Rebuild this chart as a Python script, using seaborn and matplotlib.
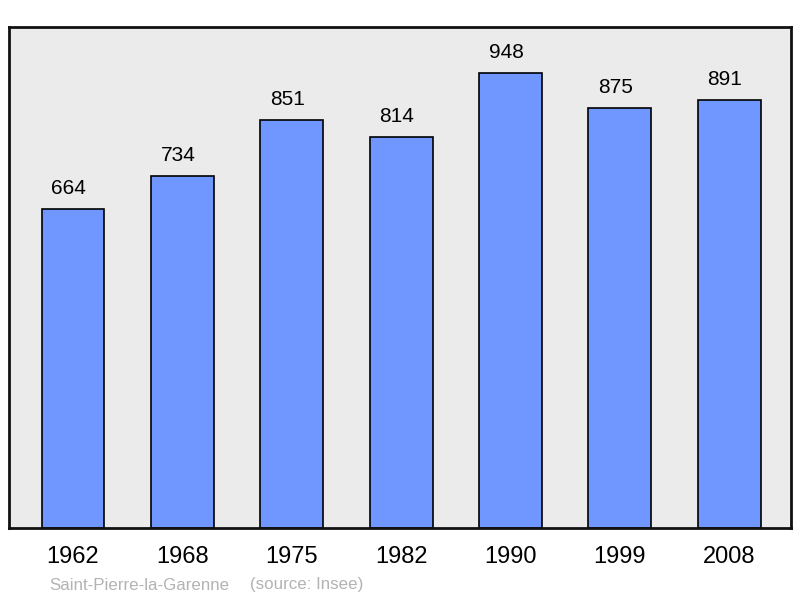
import matplotlib
matplotlib.use("Agg")
import matplotlib.pyplot as plt
import seaborn as sns
import pandas as pd

years = ["1962", "1968", "1975", "1982", "1990", "1999", "2008"]
population = [664, 734, 851, 814, 948, 875, 891]

sns.set_theme(style="white")
plt.rcParams['font.family'] = ['Liberation Sans', 'DejaVu Sans']

df = pd.DataFrame({"year": years, "pop": population})

fig = plt.figure(figsize=(8, 5.98), dpi=100)
ax = fig.add_axes([9/800, 70/598, 782/800, 501/598])
ax.set_facecolor("#ebebeb")

sns.barplot(data=df, x="year", y="pop", color="#7096ff", saturation=1,
            width=0.575, edgecolor="black", linewidth=1.2, ax=ax)

ax.set_xlim(-0.585, 6.565)
ax.set_ylim(0, 1044)
ax.set_xlabel("")
ax.set_ylabel("")
ax.set_yticks([])
ax.tick_params(axis="x", length=0, labelsize=17, pad=13, colors="black")
for s in ax.spines.values():
    s.set_visible(True)
    s.set_color("#111111")
    s.set_linewidth(2)

for i, v in enumerate(population):
    ax.annotate(str(v), (i, v), xytext=(-3, 8), textcoords="offset points",
                ha="center", va="bottom", fontsize=15, color="black")

fig.text(49/800, 1 - 585/598, "Saint-Pierre-la-Garenne",
         fontsize=12.2, color="#b3b3b3", ha="left", va="center")
fig.text(250/800, 1 - 585/598, "(source: Insee)",
         fontsize=12.2, color="#b3b3b3", ha="left", va="center")

fig.savefig("out.png", dpi=100)
